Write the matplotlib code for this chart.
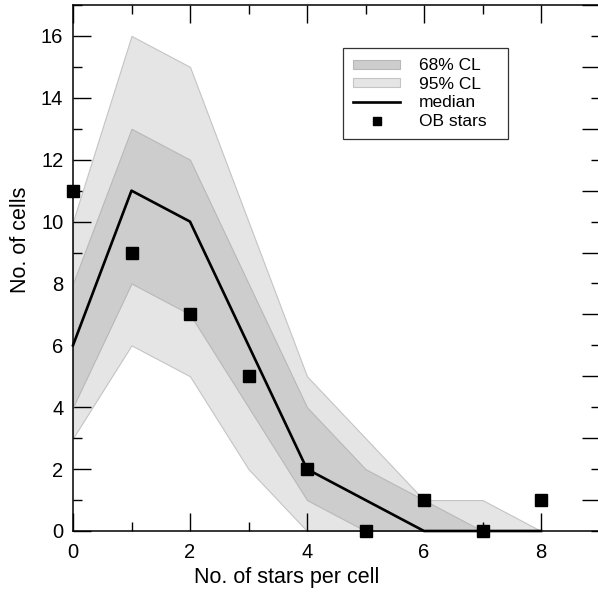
import numpy as np
import matplotlib.pyplot as plt
from matplotlib.ticker import MultipleLocator

plt.rcParams['font.family'] = ['Liberation Sans', 'DejaVu Sans']

# stars per cell
n_stars = [0, 1, 2, 3, 4, 5, 6, 7, 8]

# confidence bands and median from the simulations
cl95_lo = [3, 6, 5, 2, 0, 0, 0, 0, 0]
cl95_hi = [10, 16, 15, 10, 5, 3, 1, 1, 0]
cl68_lo = [4, 8, 7, 4, 1, 0, 0, 0, 0]
cl68_hi = [8, 13, 12, 8, 4, 2, 1, 0, 0]
median = [6, 11, 10, 6, 2, 1, 0, 0, 0]

# observed OB stars
ob_cells = [11, 9, 7, 5, 2, 0, 1, 0, 1]

fig = plt.figure(figsize=(5.98, 5.97), dpi=100)
ax = fig.add_axes([73/598, 66/597, 526.5/598, 526/597])

ax.fill_between(n_stars, cl95_lo, cl95_hi, facecolor='#e5e5e5',
                edgecolor='#c4c4c4', linewidth=0.8, label='95% CL', zorder=1)
ax.fill_between(n_stars, cl68_lo, cl68_hi, facecolor='#cdcdcd',
                edgecolor='#b8b8b8', linewidth=0.8, label='68% CL', zorder=2)
ax.plot(n_stars, median, color='black', lw=1.9, label='median',
        zorder=3, clip_on=False)
ax.plot(n_stars, ob_cells, ls='none', marker='s', ms=8.5, color='black',
        label='OB stars', zorder=4, clip_on=False)

ax.set_xlim(0, 9)
ax.set_ylim(0, 17)
ax.xaxis.set_major_locator(MultipleLocator(2))
ax.xaxis.set_minor_locator(MultipleLocator(1))
ax.yaxis.set_major_locator(MultipleLocator(2))
ax.yaxis.set_minor_locator(MultipleLocator(1))
ax.tick_params(which='both', direction='in', top=True, right=False,
               width=1.0, labelsize=14.5, pad=7)
ax.tick_params(which='major', length=13)
ax.tick_params(which='minor', length=6.5)
ax.tick_params(axis='x', pad=9)
for s in ['left', 'bottom', 'top']:
    ax.spines[s].set_linewidth(1.1)
ax.spines['right'].set_visible(False)

# right side ticks (long ones on odd values)
ax2 = ax.twinx()
ax2.set_ylim(0, 17)
ax2.yaxis.set_major_locator(MultipleLocator(2, offset=1))
ax2.yaxis.set_minor_locator(MultipleLocator(2))
ax2.tick_params(which='both', direction='in', width=1.0, labelright=False)
ax2.tick_params(which='major', length=13)
ax2.tick_params(which='minor', length=6.5)
for s in ax2.spines.values():
    s.set_visible(False)

ax.set_xlabel('No. of stars per cell', fontsize=15.5)
ax.set_ylabel('No. of cells', fontsize=15.5)
ax.xaxis.set_label_coords((287 - 73) / 526.5, -0.068)
ax.yaxis.set_label_coords(-0.08, 0.553)

h, l = ax.get_legend_handles_labels()
order = [1, 0, 2, 3]
x0 = (343 - 73) / 526.5
x1 = (508 - 73) / 526.5
y1 = (531 - 48) / 526
leg = ax.legend([h[i] for i in order], [l[i] for i in order],
                loc='upper left', bbox_to_anchor=(x0, y1 - 0.3, x1 - x0, 0.3),
                mode='expand', fontsize=12.5, frameon=True, fancybox=False,
                edgecolor='black', handlelength=2.7, handleheight=0.4,
                handletextpad=1.05, labelspacing=0.2, borderpad=0.6,
                borderaxespad=0, markerscale=0.7)
leg.get_frame().set_linewidth(0.9)
leg.set_zorder(10)

fig.savefig('out.png', dpi=100)
